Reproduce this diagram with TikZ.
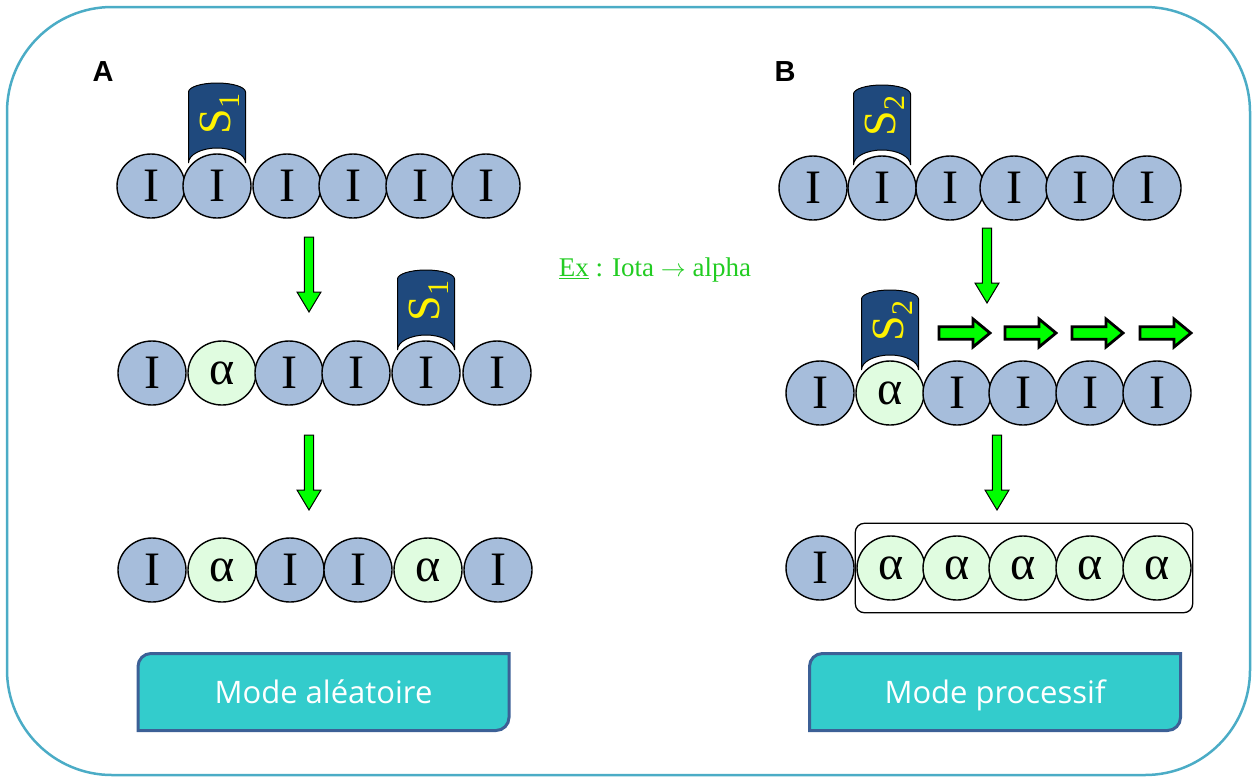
\documentclass[tikz,border=0pt]{standalone}
\usepackage{fontspec}
\setmainfont{Liberation Serif}
\newfontfamily\labelfont{Liberation Sans}
\newfontfamily\btnfont{Open Sans}
\usetikzlibrary{shapes.geometric,backgrounds,fit}

\definecolor{iotablue}{RGB}{166,189,219}
\definecolor{alphagreen}{RGB}{224,252,224}
\definecolor{enzblue}{RGB}{31,73,125}
\definecolor{arrowgreen}{RGB}{0,255,0}
\definecolor{exgreen}{RGB}{34,204,34}
\definecolor{btnteal}{RGB}{51,204,204}
\definecolor{btnedge}{RGB}{60,96,150}
\definecolor{framecol}{RGB}{75,172,198}

\tikzset{
  sub/.style={ellipse,draw=black,line width=1.4pt,minimum width=68pt,minimum height=64pt,
    inner sep=0pt,font=\fontsize{48}{48}\selectfont},
  iota/.style={sub,fill=iotablue},
  alph/.style={sub,fill=alphagreen},
  btn/.style={minimum width=371pt,minimum height=77pt,outer sep=0pt,text=white,
    text height=25pt,text depth=3pt,font=\btnfont\fontsize{31}{31}\selectfont},
  btnshape/.style={fill=btnteal,draw=btnedge,line width=3pt},
  pics/enzyme/.style={code={
    \filldraw[fill=enzblue,draw=black,line width=1pt] (-28.5,23) -- (-28.5,94)
      arc[start angle=180,end angle=0,x radius=28.5,y radius=9] -- (28.5,23)
      arc[start angle=0,end angle=180,x radius=28.5,y radius=15] -- cycle;
    \node[rotate=90,text=yellow,font=\fontsize{46}{46}\selectfont] at (3,72)
      {S\raisebox{-0.2em}{\fontsize{30}{30}\selectfont #1}};
  }},
  pics/darrow/.style={code={
    \filldraw[fill=arrowgreen,draw=black,line width=1pt] (-4.7,0) -- (-4.7,-55) -- (-12,-55)
      -- (0,-75) -- (12,-55) -- (4.7,-55) -- (4.7,0) -- cycle;
  }},
  pics/rarrow/.style={code={
    \filldraw[fill=arrowgreen,draw=black,line width=2.8pt] (0,-6.3) -- (34,-6.3) -- (34,-14)
      -- (51,0) -- (34,14) -- (34,6.3) -- (0,6.3) -- cycle;
  }}
}

\begin{document}
\begin{tikzpicture}[x=1pt,y=1pt]
\useasboundingbox (0,0) rectangle (1257,-780);
\draw[framecol,line width=2.5pt,rounded corners=105pt] (7,-7) rectangle (1250,-775);

% panel A
\node[font=\labelfont\bfseries\fontsize{29}{29}\selectfont] (labA) at (103,-72) {A};
\node[iota] (a11) at (151,-186) {I};
\node[iota] (a12) at (217,-186) {I};
\node[iota] (a13) at (287,-186) {I};
\node[iota] (a14) at (353,-186) {I};
\node[iota] (a15) at (420,-186) {I};
\node[iota] (a16) at (486,-186) {I};
\pic at (a12.center) {enzyme=1};
\pic at (309,-237) {darrow};

\node[iota] (a21) at (152,-373) {I};
\node[alph] (a22) at (222,-373) {α};
\node[iota] (a23) at (289,-373) {I};
\node[iota] (a24) at (356,-373) {I};
\node[iota] (a25) at (426,-373) {I};
\node[iota] (a26) at (497,-373) {I};
\pic at (a25.center) {enzyme=1};
\pic at (309,-435) {darrow};

\node[iota] (a31) at (152,-570) {I};
\node[alph] (a32) at (222,-570) {α};
\node[iota] (a33) at (290,-570) {I};
\node[iota] (a34) at (358,-570) {I};
\node[alph] (a35) at (428,-570) {α};
\node[iota] (a36) at (498,-570) {I};

% example
\node[text=exgreen,font=\fontsize{27}{27}\selectfont] (ex) at (655,-270)
  {\underline{Ex} : Iota $\rightarrow$ alpha};

% panel B
\node[font=\labelfont\bfseries\fontsize{29}{29}\selectfont] (labB) at (785,-72) {B};
\node[iota] (b11) at (813,-188) {I};
\node[iota] (b12) at (882,-188) {I};
\node[iota] (b13) at (950,-188) {I};
\node[iota] (b14) at (1014,-188) {I};
\node[iota] (b15) at (1080,-188) {I};
\node[iota] (b16) at (1147,-188) {I};
\pic at (b12.center) {enzyme=2};
\pic at (987,-228) {darrow};

\node[iota] (b21) at (820,-393) {I};
\node[alph] (b22) at (890,-393) {α};
\node[iota] (b23) at (957,-393) {I};
\node[iota] (b24) at (1023,-393) {I};
\node[iota] (b25) at (1090,-393) {I};
\node[iota] (b26) at (1157,-393) {I};
\pic at (b22.center) {enzyme=2};
\pic at (939,-333) {rarrow};
\pic at (1005,-333) {rarrow};
\pic at (1072,-333) {rarrow};
\pic at (1140,-333) {rarrow};
\pic at (997,-435) {darrow};

\node[iota] (b31) at (820,-568) {I};
\node[alph] (b32) at (891,-568) {α};
\node[alph] (b33) at (957,-568) {α};
\node[alph] (b34) at (1023,-568) {α};
\node[alph] (b35) at (1090,-568) {α};
\node[alph] (b36) at (1157,-568) {α};
\node[draw,line width=1.3pt,rounded corners=9pt,inner xsep=1pt,inner ysep=12pt,
  fit=(b32)(b36)] (abox) {};

% modes
\node[btn] (modeA) at (323.5,-692) {Mode aléatoire};
\node[btn] (modeB) at (995,-692) {Mode processif};
\begin{pgfonlayer}{background}
\filldraw[btnshape] (modeA.south west) -- ([yshift=-13pt]modeA.north west)
  arc[start angle=180,end angle=90,radius=13pt] -- (modeA.north east)
  -- ([yshift=13pt]modeA.south east) arc[start angle=0,end angle=-90,radius=13pt] -- cycle;
\filldraw[btnshape] (modeB.south west) -- ([yshift=-13pt]modeB.north west)
  arc[start angle=180,end angle=90,radius=13pt] -- (modeB.north east)
  -- ([yshift=13pt]modeB.south east) arc[start angle=0,end angle=-90,radius=13pt] -- cycle;
\end{pgfonlayer}
\end{tikzpicture}
\end{document}
